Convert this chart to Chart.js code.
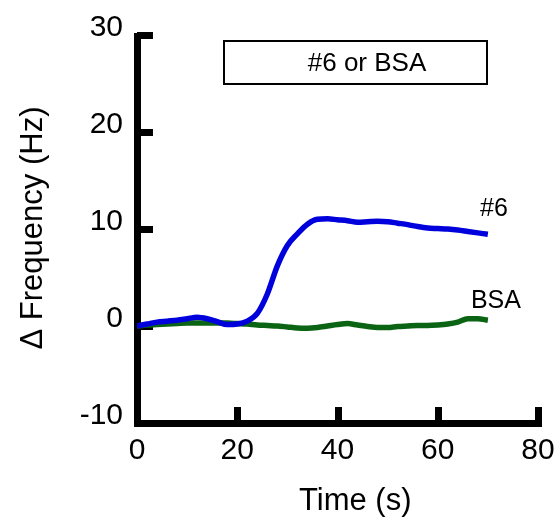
<!DOCTYPE html>
<html>
<head>
<meta charset="utf-8">
<script src="https://cdn.jsdelivr.net/npm/chart.js@4.4.1/dist/chart.umd.min.js"></script>
<style>
  html, body { margin: 0; padding: 0; background: #fff; }
  canvas { display: block; }
</style>
</head>
<body>
<canvas id="chart" width="558" height="517"></canvas>
<script>
// time axis (s)
const times = [0, 2, 4, 6, 8, 10, 12, 14, 16, 18, 20, 22, 24, 26, 28, 30, 32, 34,
               36, 38, 40, 42, 44, 46, 48, 50, 52, 54, 56, 58, 60, 62, 64, 66, 68, 70];

// delta frequency (Hz)
const sample6 = [0.0, 0.2, 0.4, 0.5, 0.6, 0.75, 0.9, 0.75, 0.45, 0.15, 0.2, 0.5, 1.3, 3.3, 6.2, 8.3, 9.5, 10.5,
                 11.0, 11.05, 10.95, 10.85, 10.7, 10.75, 10.8, 10.75, 10.6, 10.45, 10.25, 10.1, 10.05, 10.0, 9.9, 9.75, 9.6, 9.45];
const sampleBSA = [0.0, 0.1, 0.15, 0.2, 0.25, 0.3, 0.3, 0.3, 0.3, 0.3, 0.25, 0.2, 0.1, 0.05, 0.0, -0.1, -0.2, -0.22,
                   -0.15, 0.0, 0.15, 0.25, 0.1, -0.05, -0.15, -0.15, -0.05, 0.0, 0.05, 0.05, 0.1, 0.2, 0.4, 0.75, 0.75, 0.6];

const xTicks = [0, 20, 40, 60, 80];
const yTicks = [-10, 0, 10, 20, 30];

const FONT = '"Liberation Sans", Arial, sans-serif';

const toPoints = (ys) => ys.map((y, i) => ({ x: times[i], y: y }));

// thick black axes with inward ticks, plus the text annotations
const frame = {
  id: 'frame',
  beforeDatasetsDraw(chart) {
    const { ctx } = chart;
    const xs = chart.scales.x, ys = chart.scales.y;
    const x0 = Math.round(xs.getPixelForValue(0));
    const yb = Math.round(ys.getPixelForValue(-10));
    const yt = Math.round(ys.getPixelForValue(30));
    const xr = Math.round(xs.getPixelForValue(80));
    ctx.save();
    ctx.fillStyle = '#000';
    ctx.fillRect(x0 - 3, yt - 2, 7, yb - yt + 6);
    ctx.fillRect(x0 - 3, yb - 3, xr - x0 + 7, 7);
    yTicks.forEach(v => {
      const p = Math.round(ys.getPixelForValue(v));
      ctx.fillRect(x0, p - 3, 16, 7);
    });
    xTicks.forEach(v => {
      const p = Math.round(xs.getPixelForValue(v));
      ctx.fillRect(p - 3, yb - 16, 7, 16);
    });
    ctx.restore();
  },
  afterDraw(chart) {
    const { ctx } = chart;
    const xs = chart.scales.x, ys = chart.scales.y;
    ctx.save();
    ctx.fillStyle = '#000';

    // axis titles
    ctx.font = '31px ' + FONT;
    ctx.textAlign = 'left';
    ctx.textBaseline = 'alphabetic';
    ctx.fillText('Time (s)', 299, 510);
    ctx.save();
    ctx.translate(42, 228);
    ctx.rotate(-Math.PI / 2);
    ctx.textAlign = 'center';
    ctx.fillText('\u0394 Frequency (Hz)', 0, 0);
    ctx.restore();

    // boxed caption
    ctx.lineWidth = 2;
    ctx.strokeStyle = '#000';
    ctx.strokeRect(224, 41, 263, 43);
    ctx.font = '26px ' + FONT;
    ctx.textAlign = 'center';
    ctx.textBaseline = 'middle';
    ctx.fillText('#6 or BSA', 367, 64);

    // series labels
    ctx.font = '25px ' + FONT;
    ctx.fillText('#6', xs.getPixelForValue(71.2), ys.getPixelForValue(12.0));
    ctx.fillText('BSA', xs.getPixelForValue(71.6), ys.getPixelForValue(2.6));
    ctx.restore();
  }
};

new Chart(document.getElementById('chart'), {
  type: 'line',
  data: {
    datasets: [{
      label: '#6',
      data: toPoints(sample6),
      borderColor: '#0000dd',
      borderWidth: 5.5,
      pointRadius: 0,
      cubicInterpolationMode: 'monotone',
      fill: false
    }, {
      label: 'BSA',
      data: toPoints(sampleBSA),
      borderColor: '#0a6414',
      borderWidth: 5.5,
      pointRadius: 0,
      cubicInterpolationMode: 'monotone',
      fill: false
    }]
  },
  options: {
    responsive: false,
    animation: false,
    events: [],
    layout: { padding: { top: 35, right: 20, left: 0, bottom: 0 } },
    plugins: {
      legend: { display: false },
      tooltip: { enabled: false }
    },
    scales: {
      x: {
        type: 'linear',
        min: 0,
        max: 80,
        afterFit: (s) => { s.height = 94; s.paddingLeft = 0; s.paddingRight = 0; },
        afterBuildTicks: (s) => { s.ticks = xTicks.map(v => ({ value: v })); },
        grid: { display: false, drawTicks: false },
        border: { display: false },
        ticks: {
          color: '#000',
          font: { family: FONT, size: 30 },
          padding: 10,
          maxRotation: 0
        }
      },
      y: {
        type: 'linear',
        min: -10,
        max: 30,
        afterFit: (s) => { s.width = 137; s.paddingTop = 0; s.paddingBottom = 0; },
        afterBuildTicks: (s) => { s.ticks = yTicks.map(v => ({ value: v })); },
        grid: { display: false, drawTicks: false },
        border: { display: false },
        ticks: {
          color: '#000',
          font: { family: FONT, size: 30 },
          padding: 14,
          labelOffset: -7
        }
      }
    }
  },
  plugins: [frame]
});
</script>
</body>
</html>
